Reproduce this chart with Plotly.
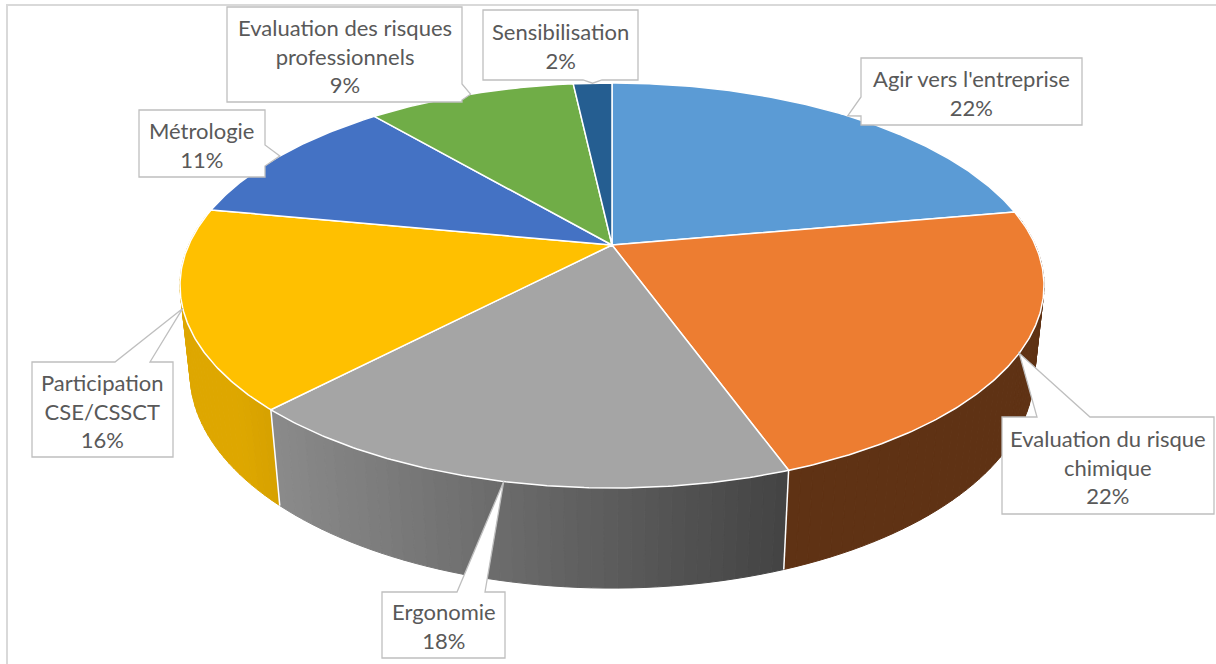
import numpy as np
import plotly.graph_objects as go

# ---------------- data ----------------
categories = [
    "Agir vers l'entreprise",
    "Evaluation du risque chimique",
    "Ergonomie",
    "Participation CSE/CSSCT",
    "Métrologie",
    "Evaluation des risques professionnels",
    "Sensibilisation",
]
label_lines = [
    ["Agir vers l'entreprise"],
    ["Evaluation du risque", "chimique"],
    ["Ergonomie"],
    ["Participation", "CSE/CSSCT"],
    ["Métrologie"],
    ["Evaluation des risques", "professionnels"],
    ["Sensibilisation"],
]
values = [22.2, 22.3, 17.6, 15.9, 10.8, 9.45, 1.75]
colors = ["#5B9BD5", "#ED7D31", "#A5A5A5", "#FFC000", "#4472C4", "#70AD47", "#255E91"]

# ---------------- layout / geometry (style, not data) ----------------
W, H = 1216, 664
CX, CY = 612, 245          # projected pie centre (pixels)
D = 4.465                  # camera distance (in pie radii)
SIN_E = 0.45
COS_E = np.sqrt(1 - SIN_E ** 2)
FX, FY = 1890, 1929        # focal scales
THICK = 0.228              # pie thickness (in radii)

# label boxes: x0, y0, x1, y1, side of pointer, base start, base end
boxes = [
    (861, 58, 1082, 125, "left", 97, 116),
    (1002, 417, 1214, 514, "top", 1037, 1090),
    (382, 592, 505, 658, "top", 457, 485),
    (32, 362, 173, 457, "top", 115, 150),
    (139, 110, 265, 177, "right", 145, 166),
    (227, 7, 462, 102, "right", 84, 100),
    (483, 10, 638, 80, "bottom", 583, 602),
]


def proj(theta_deg, z):
    t = np.radians(theta_deg)
    x, y = np.sin(t), np.cos(t)
    depth = y * COS_E + D - z * SIN_E
    up = y * SIN_E + z * COS_E
    return CX + x * FX / depth, CY - up * FY / depth


def shade(hex_color, f):
    r, g, b = int(hex_color[1:3], 16), int(hex_color[3:5], 16), int(hex_color[5:7], 16)
    return "rgb(%d,%d,%d)" % (round(r * f), round(g * f), round(b * f))


total = float(sum(values))
angles = np.concatenate([[0], np.cumsum(values) / total * 360.0])

fig = go.Figure()

# ---- side walls (strips sorted back to front) ----
strips = []
for i, col in enumerate(colors):
    a0, a1 = angles[i], angles[i + 1]
    n = max(2, int(np.ceil((a1 - a0) / 1.5)))
    edges = np.linspace(a0, a1, n + 1)
    for t0, t1 in zip(edges[:-1], edges[1:]):
        tm = 0.5 * (t0 + t1)
        if np.cos(np.radians(tm)) > 0.15:
            continue
        strips.append((np.cos(np.radians(tm)), t0, t1, col))
strips.sort(key=lambda s: -s[0])
for _, t0, t1, col in strips:
    xt0, yt0 = proj(t0, 0)
    xt1, yt1 = proj(t1, 0)
    xb1, yb1 = proj(t1, -THICK)
    xb0, yb0 = proj(t0, -THICK)
    xm = 0.5 * (xt0 + xt1)
    f = float(np.clip(0.836 - 0.00084 * (xm - 277), 0.40, 0.87))
    c = shade(col, f)
    fig.add_trace(go.Scatter(
        x=[xt0, xt1, xb1, xb0, xt0], y=[yt0, yt1, yb1, yb0, yt0],
        mode="lines", fill="toself", fillcolor=c,
        line=dict(color=c, width=1), hoverinfo="skip", showlegend=False))

# white separators on visible side edges
for a in angles:
    if -1 - D * COS_E * np.cos(np.radians(a)) > 0:
        x0, y0 = proj(a, 0)
        x1, y1 = proj(a, -THICK)
        fig.add_trace(go.Scatter(x=[x0, x1], y=[y0, y1], mode="lines",
                                 line=dict(color="white", width=1.5),
                                 hoverinfo="skip", showlegend=False))

# ---- top faces ----
for i, col in enumerate(colors):
    a0, a1 = angles[i], angles[i + 1]
    ts = np.linspace(a0, a1, max(3, int((a1 - a0) * 2)))
    xs, ys = proj(ts, 0)
    px = np.concatenate([[CX], xs, [CX]])
    py = np.concatenate([[CY], ys, [CY]])
    fig.add_trace(go.Scatter(
        x=px, y=py, mode="lines", fill="toself", fillcolor=col,
        line=dict(color="white", width=1.5), hoverinfo="skip",
        name=categories[i], showlegend=False))

# ---- callout labels ----
shapes = []
annotations = []
for i, (x0, y0, x1, y1, side, b0, b1) in enumerate(boxes):
    tx, ty = proj(0.5 * (angles[i] + angles[i + 1]), 0)
    if side == "left":
        pts = [(x0, y0), (x1, y0), (x1, y1), (x0, y1), (x0, b1), (tx, ty), (x0, b0)]
    elif side == "right":
        pts = [(x0, y0), (x1, y0), (x1, b0), (tx, ty), (x1, b1), (x1, y1), (x0, y1)]
    elif side == "top":
        pts = [(x0, y0), (b0, y0), (tx, ty), (b1, y0), (x1, y0), (x1, y1), (x0, y1)]
    else:  # bottom
        pts = [(x0, y0), (x1, y0), (x1, y1), (b1, y1), (tx, ty), (b0, y1), (x0, y1)]
    path = "M " + " L ".join("%.1f,%.1f" % p for p in pts) + " Z"
    shapes.append(dict(type="path", path=path, xref="x", yref="y",
                       fillcolor="white", line=dict(color="#BFBFBF", width=1.3),
                       layer="above"))
    pct = "%d%%" % round(values[i] / total * 100)
    text = "<br>".join(label_lines[i] + [pct])
    annotations.append(dict(x=0.5 * (x0 + x1), y=0.5 * (y0 + y1) + 1, xref="x", yref="y",
                            text=text, showarrow=False, align="center",
                            font=dict(family="Lato", size=22, color="#595959")))

# chart border
shapes.append(dict(type="rect", xref="x", yref="y", x0=7, y0=5, x1=W + 20, y1=H + 20,
                   line=dict(color="#D9D9D9", width=2), fillcolor="rgba(0,0,0,0)",
                   layer="above"))

fig.update_layout(
    width=W, height=H,
    margin=dict(l=0, r=0, t=0, b=0),
    paper_bgcolor="white", plot_bgcolor="white",
    xaxis=dict(range=[0, W], visible=False, fixedrange=True),
    yaxis=dict(range=[H, 0], visible=False, fixedrange=True),
    shapes=shapes, annotations=annotations,
    showlegend=False,
)

fig.write_html("out.html", config={"displayModeBar": False},
               post_script="document.body.style.margin='0';document.body.style.overflow='hidden';")
